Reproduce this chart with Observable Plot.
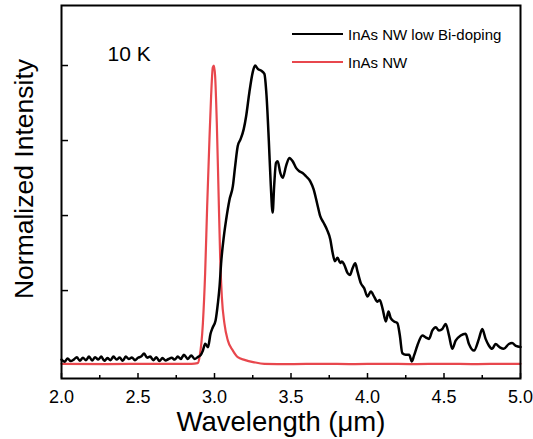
<!DOCTYPE html>
<html><head><meta charset="utf-8">
<script src="https://cdn.jsdelivr.net/npm/d3@7"></script>
<script src="https://cdn.jsdelivr.net/npm/@observablehq/plot@0.6"></script>
<style>
body{margin:0;background:#fff;}
#wrap{position:relative;width:533px;height:439px;font-family:"Liberation Sans",Arial,sans-serif;color:#000;}
.leg{position:absolute;left:292px;height:20px;display:flex;align-items:center;font-size:15px;white-space:nowrap;}
.sw{width:51px;height:0;margin-right:5px;}
.xt{position:absolute;left:131px;width:300px;top:408px;text-align:center;font-size:27.5px;line-height:1;white-space:nowrap;}
.yt{position:absolute;left:-126px;top:164px;width:300px;height:30px;line-height:30px;text-align:center;font-size:26.5px;white-space:nowrap;transform:rotate(-90deg);transform-origin:50% 50%;}
</style></head><body><div id="wrap"></div>
<script>
const xTicks = [2.0, 2.5, 3.0, 3.5, 4.0, 4.5, 5.0];
const xMinor = [2.25, 2.75, 3.25, 3.75, 4.25, 4.75];
const yTicks = [0.25, 0.5, 0.75, 1.0];
const seriesNames = ["InAs NW low Bi-doping", "InAs NW"];
const seriesColors = ["#000000", "#e8474d"];
const annotation = "10 K";
const xTitle = "Wavelength (μm)";
const yTitle = "Normalized Intensity";

const bLambda = [2.00,2.02,2.04,2.06,2.08,2.10,2.12,2.14,2.16,2.18,2.20,2.22,2.24,2.26,2.28,2.30,2.32,2.34,2.36,2.38,2.40,2.42,2.44,2.46,2.48,2.50,2.52,2.54,2.56,2.58,2.60,2.62,2.64,2.66,2.68,2.70,2.72,2.74,2.76,2.78,2.80,2.826,2.848,2.87,2.89,2.91,2.924,2.939,2.957,2.974,2.989,3.007,3.022,3.033,3.043,3.061,3.076,3.098,3.120,3.135,3.152,3.170,3.191,3.207,3.228,3.250,3.265,3.283,3.304,3.326,3.340,3.355,3.368,3.380,3.390,3.402,3.413,3.430,3.446,3.467,3.489,3.511,3.533,3.554,3.576,3.598,3.626,3.648,3.670,3.691,3.713,3.735,3.757,3.772,3.787,3.804,3.822,3.833,3.848,3.870,3.885,3.902,3.920,3.935,3.957,3.978,4.000,4.022,4.043,4.065,4.080,4.098,4.120,4.137,4.152,4.174,4.196,4.211,4.228,4.250,4.272,4.290,4.304,4.326,4.359,4.380,4.402,4.424,4.446,4.467,4.489,4.511,4.533,4.554,4.576,4.609,4.641,4.663,4.696,4.728,4.750,4.772,4.793,4.815,4.837,4.865,4.891,4.924,4.945,4.970,5.000];
const bInt = [0.020,0.013,0.024,0.015,0.020,0.028,0.016,0.026,0.018,0.030,0.017,0.028,0.020,0.030,0.016,0.025,0.018,0.030,0.020,0.027,0.016,0.030,0.022,0.027,0.018,0.026,0.030,0.040,0.026,0.030,0.018,0.028,0.015,0.025,0.017,0.022,0.026,0.020,0.030,0.022,0.036,0.022,0.034,0.022,0.028,0.035,0.050,0.073,0.061,0.106,0.128,0.150,0.207,0.263,0.340,0.430,0.486,0.553,0.598,0.665,0.732,0.754,0.788,0.832,0.911,0.978,1.000,0.989,0.983,0.972,0.900,0.750,0.600,0.510,0.600,0.676,0.681,0.642,0.626,0.664,0.692,0.681,0.659,0.648,0.642,0.631,0.614,0.587,0.542,0.498,0.476,0.453,0.420,0.376,0.348,0.359,0.342,0.347,0.336,0.308,0.302,0.324,0.341,0.313,0.274,0.258,0.230,0.247,0.230,0.213,0.219,0.191,0.147,0.180,0.158,0.147,0.141,0.102,0.041,0.036,0.036,0.014,0.033,0.067,0.100,0.094,0.089,0.117,0.128,0.117,0.122,0.139,0.100,0.056,0.083,0.100,0.106,0.072,0.050,0.089,0.122,0.089,0.067,0.056,0.072,0.061,0.056,0.072,0.075,0.066,0.062];

const rLambda = [2.00,2.30,2.60,2.85,2.89,2.902,2.924,2.939,2.952,2.967,2.978,2.989,2.996,3.004,3.015,3.026,3.037,3.048,3.065,3.087,3.120,3.152,3.196,3.260,3.326,3.50,3.70,3.90,4.10,4.30,4.50,4.70,4.90,5.00];
const rInt = [0.006,0.005,0.006,0.006,0.008,0.028,0.140,0.310,0.530,0.754,0.900,0.994,1.000,0.966,0.810,0.587,0.363,0.229,0.140,0.084,0.050,0.028,0.019,0.011,0.006,0.005,0.006,0.005,0.006,0.005,0.006,0.005,0.006,0.006];

const black = bLambda.map((x, i) => ({x, y: bInt[i]}));
const red = rLambda.map((x, i) => ({x, y: rInt[i]}));

const W = 533, H = 439, mL = 61, mR = 13, mT = 5, mB = 61;
const plotW = W - mL - mR, plotH = H - mT - mB;
const font = '"Liberation Sans", Arial, sans-serif';

const chart = Plot.plot({
  width: W, height: H,
  marginLeft: mL, marginRight: mR, marginTop: mT, marginBottom: mB,
  style: {fontFamily: font, background: "#fff", color: "#000"},
  x: {domain: [2, 5]},
  y: {domain: [-0.043, 1.2]},
  marks: [
    Plot.line(red, {x: "x", y: "y", stroke: seriesColors[1], strokeWidth: 2.2, curve: "monotone-x"}),
    Plot.line(black, {x: "x", y: "y", stroke: seriesColors[0], strokeWidth: 2.5, curve: "monotone-x"}),
    Plot.frame({stroke: "#000", strokeWidth: 2}),
    Plot.tickX(xTicks, {x: d => d, stroke: "#000", strokeWidth: 1.5, insetTop: plotH - 5}),
    Plot.tickX(xMinor, {x: d => d, stroke: "#000", strokeWidth: 1.5, insetTop: plotH - 3}),
    Plot.tickY(yTicks, {y: d => d, stroke: "#000", strokeWidth: 1.5, insetRight: plotW - 7}),
    Plot.axisX(xTicks, {tickSize: 0, tickPadding: 12, fontSize: 18, tickFormat: d3.format(".1f"), label: null}),
    Plot.axisY({ticks: [], tickSize: 0, label: null}),
    Plot.text([annotation], {frameAnchor: "top-left", textAnchor: "start", dx: 46, dy: 41, fontSize: 21, fill: "#000"})
  ]
});

const wrap = document.getElementById("wrap");
wrap.appendChild(chart);
const xt = document.createElement("div"); xt.className = "xt"; xt.textContent = xTitle; wrap.appendChild(xt);
const yt = document.createElement("div"); yt.className = "yt"; yt.textContent = yTitle; wrap.appendChild(yt);
seriesNames.forEach((name, i) => {
  const d = document.createElement("div");
  d.className = "leg";
  d.style.top = (i === 0 ? 24 : 52) + "px";
  const sw = document.createElement("span");
  sw.className = "sw";
  sw.style.borderTop = (i === 0 ? 2.5 : 2.2) + "px solid " + seriesColors[i];
  const t = document.createElement("span");
  t.textContent = name;
  d.appendChild(sw); d.appendChild(t);
  wrap.appendChild(d);
});
</script>
</body></html>
